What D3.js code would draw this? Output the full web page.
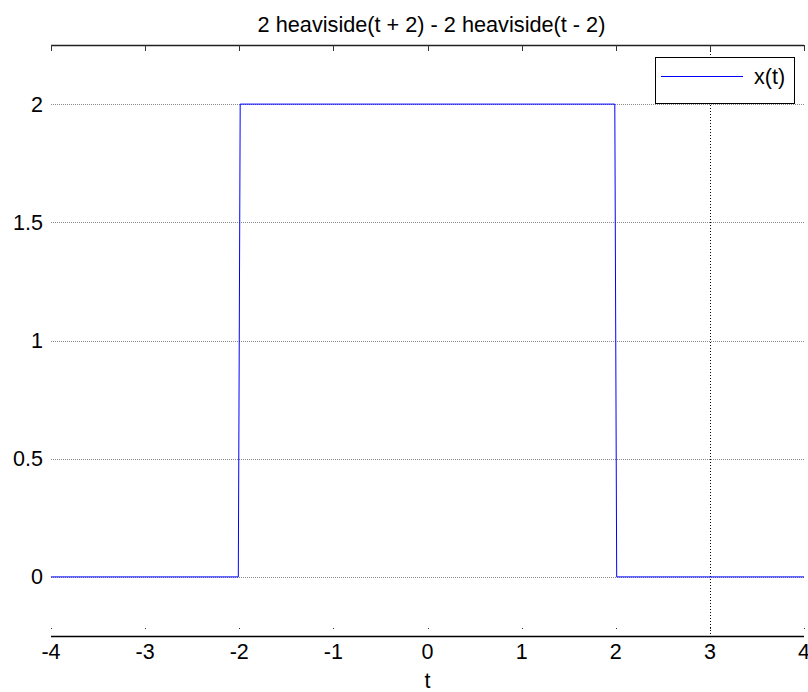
<!DOCTYPE html>
<html><head><meta charset="utf-8">
<script src="https://cdn.jsdelivr.net/npm/d3@7"></script>
<style>body{margin:0;background:#fff}svg{display:block}text{font-family:"Liberation Sans",Arial,sans-serif}</style>
</head><body>
<svg id="c" width="808" height="692"></svg>
<script>
const titleText = "2 heaviside(t + 2) - 2 heaviside(t - 2)";
const xLabel = "t";
const seriesName = "x(t)";
const tValues = [-4, -2.01, -1.99, 1.99, 2.01, 4];
const xValues = [0, 0, 2, 2, 0, 0];
const xTicks = [-4, -3, -2, -1, 0, 1, 2, 3, 4];
const yTicks = [0, 0.5, 1, 1.5, 2];
const yTickLabels = ["0", "0.5", "1", "1.5", "2"];
const xGridTicks = [3];

const FS = 21.5;
const svg = d3.select("#c");
const L = 51, R = 804, T = 45, B = 636;
const x = d3.scaleLinear().domain([-4, 4]).range([L, R]);
const y = d3.scaleLinear().domain([-0.25, 2.25]).range([B, T]);

// horizontal grid
svg.append("g").selectAll("line").data(yTicks).join("line")
  .attr("x1", L).attr("x2", R)
  .attr("y1", d => Math.round(y(d)) + 0.5).attr("y2", d => Math.round(y(d)) + 0.5)
  .attr("stroke", "#8a8a8a").attr("stroke-dasharray", "1,1");

// vertical grid
svg.append("g").selectAll("line").data(xGridTicks).join("line")
  .attr("x1", d => Math.round(x(d)) + 0.5).attr("x2", d => Math.round(x(d)) + 0.5)
  .attr("y1", T).attr("y2", B)
  .attr("stroke", "#000").attr("stroke-dasharray", "1,2");

// top and bottom box lines
svg.append("line").attr("x1", L).attr("x2", R).attr("y1", T + 0.5).attr("y2", T + 0.5).attr("stroke", "#222").attr("stroke-width", 1.3);
svg.append("line").attr("x1", L).attr("x2", R).attr("y1", B + 0.5).attr("y2", B + 0.5).attr("stroke", "#000").attr("stroke-width", 1.3);

// top ticks (inward)
svg.append("g").selectAll("line").data(xTicks).join("line")
  .attr("x1", d => Math.round(x(d)) + 0.5).attr("x2", d => Math.round(x(d)) + 0.5)
  .attr("y1", T).attr("y2", T + 6)
  .attr("stroke", "#333");
// bottom tick dots
svg.append("g").selectAll("rect").data(xTicks).join("rect")
  .attr("x", d => Math.round(x(d))).attr("y", B - 8).attr("width", 1).attr("height", 1)
  .attr("fill", "#333");

// x tick labels
svg.append("g").selectAll("text").data(xTicks).join("text")
  .attr("x", d => x(d)).attr("y", B + 23)
  .attr("text-anchor", "middle").attr("font-size", FS).text(d => d);

// y tick labels
svg.append("g").selectAll("text").data(yTicks).join("text")
  .attr("x", L - 8).attr("y", d => y(d) + 7.5)
  .attr("text-anchor", "end").attr("font-size", FS).text((d, i) => yTickLabels[i]);

// series line
const line = d3.line().x((d, i) => x(tValues[i])).y(d => y(d));
svg.append("path").datum(xValues).attr("d", line)
  .attr("fill", "none").attr("stroke", "#0000ff").attr("stroke-width", 1);

// title & label
svg.append("text").attr("x", (L + R) / 2 + 4).attr("y", 32).attr("text-anchor", "middle").attr("font-size", 21.7).text(titleText);
svg.append("text").attr("x", (L + R) / 2).attr("y", 688).attr("text-anchor", "middle").attr("font-size", FS).text(xLabel);

// legend
const lg = svg.append("g");
lg.append("rect").attr("x", 655.5).attr("y", 57.5).attr("width", 139).attr("height", 46)
  .attr("fill", "#fff").attr("stroke", "#000");
lg.append("line").attr("x1", 661).attr("x2", 743).attr("y1", 76.5).attr("y2", 76.5).attr("stroke", "#0000ff");
lg.append("text").attr("x", 754).attr("y", 84).attr("font-size", FS).text(seriesName);
</script>
</body></html>
